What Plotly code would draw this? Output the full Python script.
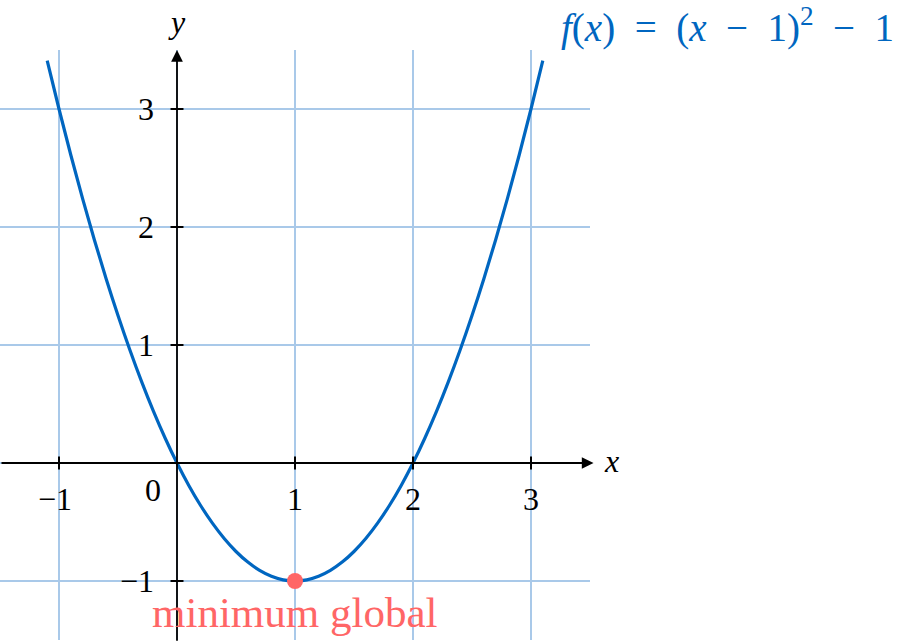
import plotly.graph_objects as go

# Curve samples of f(x) = (x-1)^2 - 1
curve_x = [-1.1, -1.0, -0.9, -0.8, -0.7, -0.6, -0.5, -0.4, -0.3, -0.2, -0.1,
           0.0, 0.1, 0.2, 0.3, 0.4, 0.5, 0.6, 0.7, 0.8, 0.9, 1.0,
           1.1, 1.2, 1.3, 1.4, 1.5, 1.6, 1.7, 1.8, 1.9, 2.0,
           2.1, 2.2, 2.3, 2.4, 2.5, 2.6, 2.7, 2.8, 2.9, 3.0, 3.1]
curve_y = [3.41, 3.0, 2.61, 2.24, 1.89, 1.56, 1.25, 0.96, 0.69, 0.44, 0.21,
           0.0, -0.19, -0.36, -0.51, -0.64, -0.75, -0.84, -0.91, -0.96, -0.99, -1.0,
           -0.99, -0.96, -0.91, -0.84, -0.75, -0.64, -0.51, -0.36, -0.19, 0.0,
           0.21, 0.44, 0.69, 0.96, 1.25, 1.56, 1.89, 2.24, 2.61, 3.0, 3.41]

min_x = [1.0]
min_y = [-1.0]

x_ticks = [-1, 1, 2, 3]
x_tick_labels = ["−1", "1", "2", "3"]
y_ticks = [-1, 1, 2, 3]
y_tick_labels = ["−1", "1", "2", "3"]
grid_vals = [-1, 0, 1, 2, 3]

x_range = [-1.5, 3.5]
y_range = [-1.5, 3.5]

BLUE = "#0066c0"
RED = "#ff6666"
GRID = "#a9c9e9"
FONT = "Liberation Serif"

fig = go.Figure()

fig.add_trace(go.Scatter(x=curve_x, y=curve_y, mode="lines",
                         line=dict(color=BLUE, width=3.2, shape="spline"),
                         hoverinfo="skip", showlegend=False))
fig.add_trace(go.Scatter(x=min_x, y=min_y, mode="markers",
                         marker=dict(color=RED, size=16),
                         hoverinfo="skip", showlegend=False))

shapes = []
for v in x_ticks:
    shapes.append(dict(type="line", xref="x", yref="y", x0=v, x1=v,
                       y0=-0.055, y1=0.055, line=dict(color="black", width=2)))
for v in y_ticks:
    shapes.append(dict(type="line", xref="x", yref="y", y0=v, y1=v,
                       x0=-0.055, x1=0.055, line=dict(color="black", width=2)))

annotations = []
# axes with arrows
annotations.append(dict(x=3.53, y=0, ax=-1.5, ay=0, xref="x", yref="y",
                        axref="x", ayref="y", text="", showarrow=True,
                        arrowhead=2, arrowsize=1.3, arrowwidth=1.8, arrowcolor="black"))
annotations.append(dict(x=0, y=3.5, ax=0, ay=-1.52, xref="x", yref="y",
                        axref="x", ayref="y", text="", showarrow=True,
                        arrowhead=2, arrowsize=1.3, arrowwidth=1.8, arrowcolor="black"))

for v, t in zip(x_ticks, x_tick_labels):
    annotations.append(dict(x=v, y=0, xref="x", yref="y", text=t, showarrow=False,
                            xanchor="center", yanchor="middle", yshift=-36,
                            xshift=-4 if t.startswith("−") else 0,
                            font=dict(family=FONT, size=32, color="black")))
for v, t in zip(y_ticks, y_tick_labels):
    annotations.append(dict(x=0, y=v, xref="x", yref="y", text=t, showarrow=False,
                            xanchor="right", yanchor="middle", xshift=-21,
                            font=dict(family=FONT, size=32, color="black")))
annotations.append(dict(x=0, y=0, xref="x", yref="y", text="0", showarrow=False,
                        xanchor="center", yanchor="middle", xshift=-24, yshift=-27,
                        font=dict(family=FONT, size=32, color="black")))
annotations.append(dict(x=3.5, y=0, xref="x", yref="y", text="<i>x</i>", showarrow=False,
                        xanchor="left", yanchor="middle", xshift=12, yshift=2,
                        font=dict(family=FONT, size=32, color="black")))
annotations.append(dict(x=0, y=3.5, xref="x", yref="y", text="<i>y</i>", showarrow=False,
                        xanchor="center", yanchor="middle", yshift=28,
                        font=dict(family=FONT, size=32, color="black")))
annotations.append(dict(x=(3.24 - x_range[0]) / (x_range[1] - x_range[0]),
                        y=(3.71 - y_range[0]) / (y_range[1] - y_range[0]),
                        xref="paper", yref="paper", yshift=0,
                        text="<i>f</i>(<i>x</i>)&nbsp;&nbsp;=&nbsp;&nbsp;(<i>x</i>&nbsp;&nbsp;−&nbsp;&nbsp;1)<sup>2</sup>&nbsp;&nbsp;−&nbsp;&nbsp;1",
                        showarrow=False, xanchor="left", yanchor="middle",
                        font=dict(family=FONT, size=39, color=BLUE)))
annotations.append(dict(x=min_x[0], y=min_y[0], xref="x", yref="y", text="minimum global",
                        showarrow=False, xanchor="center", yanchor="middle", yshift=-31,
                        font=dict(family=FONT, size=43, color=RED)))

fig.update_layout(
    width=910, height=641,
    margin=dict(l=0, r=320, t=50, b=1),
    paper_bgcolor="white", plot_bgcolor="white",
    xaxis=dict(range=x_range, tickvals=grid_vals, showgrid=True, gridcolor=GRID,
               gridwidth=1.5, zeroline=False, showticklabels=False, showline=False,
               fixedrange=True),
    yaxis=dict(range=y_range, tickvals=grid_vals, showgrid=True, gridcolor=GRID,
               gridwidth=1.5, zeroline=False, showticklabels=False, showline=False,
               fixedrange=True),
    shapes=shapes,
    annotations=annotations,
    showlegend=False,
)

fig.write_html("out.html", config={"displayModeBar": False},
               post_script="document.body.style.margin='0';")
